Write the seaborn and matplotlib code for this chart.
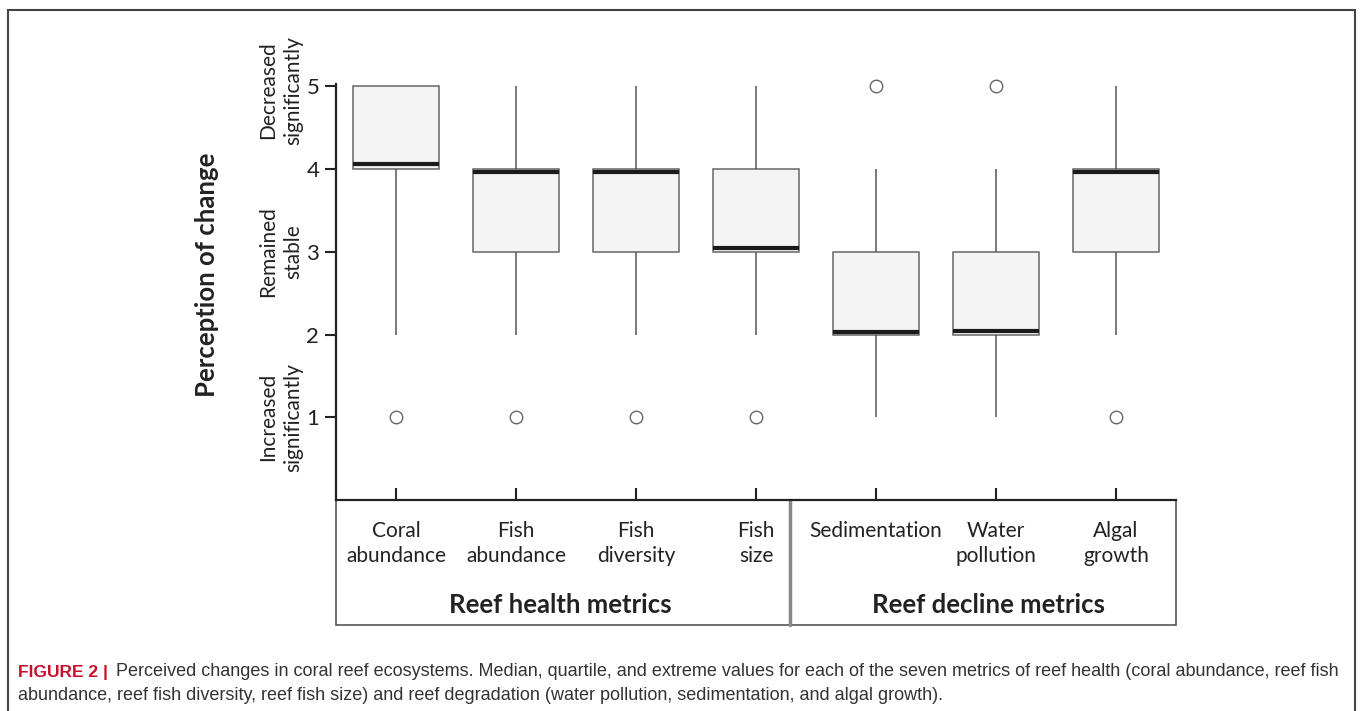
import numpy as np
import pandas as pd
import seaborn as sns
import matplotlib.pyplot as plt
from matplotlib.patches import Rectangle
from matplotlib.lines import Line2D
from matplotlib.transforms import blended_transform_factory

# 指标（类别）
metrics = ["Coral\nabundance", "Fish\nabundance", "Fish\ndiversity", "Fish\nsize",
           "Sedimentation", "Water\npollution", "Algal\ngrowth"]

# 五数概括：下须、下四分位、中位数、上四分位、上须
whisker_low = [2, 2, 2, 2, 1, 1, 2]
quartile_1 = [4, 3, 3, 3, 2, 2, 3]
median = [4.06, 3.97, 3.97, 3.05, 2.03, 2.04, 3.97]
quartile_3 = [5, 4, 4, 4, 3, 3, 4]
whisker_high = [5, 5, 5, 5, 4, 4, 5]

# 异常值
outlier_metric = ["Coral\nabundance", "Fish\nabundance", "Fish\ndiversity", "Fish\nsize",
                  "Sedimentation", "Water\npollution", "Algal\ngrowth"]
outlier_value = [1, 1, 1, 1, 5, 5, 1]

y_ticks = [1, 2, 3, 4, 5]
y_desc = ["Increased\nsignificantly", "Remained\nstable", "Decreased\nsignificantly"]
y_desc_pos = [1, 3, 4.95]

# 长表数据
rows = []
for i, m in enumerate(metrics):
    for v in (whisker_low[i], quartile_1[i], median[i], quartile_3[i], whisker_high[i]):
        rows.append({"metric": m, "value": v})
df = pd.DataFrame(rows)
df_out = pd.DataFrame({"metric": outlier_metric, "value": outlier_value})

sns.set_theme(style="white")
plt.rcParams["font.family"] = ["Lato", "DejaVu Sans"]

fig = plt.figure(figsize=(13.6, 7.11), dpi=100)
ax = fig.add_axes([336 / 1360, 1 - 500 / 711, 840 / 1360, 416 / 711])

sns.boxplot(data=df, x="metric", y="value", order=metrics, whis=(0, 100), width=0.72,
            color="#f4f4f4", saturation=1, linecolor="#666666", linewidth=1.1,
            showcaps=False, fliersize=0,
            medianprops=dict(color="#1a1a1a", linewidth=3),
            whiskerprops=dict(color="#555555", linewidth=1.1), ax=ax)

sns.stripplot(data=df_out, x="metric", y="value", order=metrics, jitter=False,
              color="white", edgecolor="#666666", linewidth=1, size=9, ax=ax,
              clip_on=False, zorder=5)

ax.set_xlim(-0.5, 6.5)
ax.set_ylim(0, 5.03)
ax.set_yticks(y_ticks)
ax.set_xlabel("")
ax.set_ylabel("")

sns.despine(ax=ax)
for s in ("left", "bottom"):
    ax.spines[s].set_linewidth(1.6)
    ax.spines[s].set_color("#222222")

ax.tick_params(axis="y", direction="out", length=8, width=1.5, pad=4,
               labelsize=16, colors="#222222", left=True)
ax.tick_params(axis="x", direction="in", length=9, width=1.5, pad=15,
               labelsize=15, colors="#222222", bottom=True)
for lab in ax.get_xticklabels():
    lab.set_linespacing(1.3)

# y轴说明文字
trans = blended_transform_factory(fig.transFigure, ax.transData)
for txt, pos in zip(y_desc, y_desc_pos):
    ax.text(281 / 1360, pos, txt, rotation=90, ha="center", va="center",
            transform=trans, fontsize=15, linespacing=1.3, color="#222222")

fig.text(207 / 1360, 1 - 275 / 711, "Perception of change", rotation=90,
         ha="center", va="center", fontsize=18.5, fontweight="bold", color="#222222")

# 下方分组框
h = -125 / 416
ax.add_patch(Rectangle((0, h), 1, -h, transform=ax.transAxes, fill=False,
                       edgecolor="#555555", linewidth=1.2, clip_on=False))
div = (790 - 336) / 840
ax.add_line(Line2D([div, div], [h, 0], transform=ax.transAxes, color="#888888",
                   linewidth=2.5, clip_on=False))
ax.text((560 - 336) / 840, -105 / 416, "Reef health metrics", transform=ax.transAxes,
        ha="center", va="center", fontsize=18.5, fontweight="bold", color="#222222")
ax.text((988 - 336) / 840, -105 / 416, "Reef decline metrics", transform=ax.transAxes,
        ha="center", va="center", fontsize=18.5, fontweight="bold", color="#222222")

# 外框
fig.add_artist(Rectangle((8 / 1360, -0.02), 1347 / 1360, 1 - 10 / 711 + 0.02,
                         transform=fig.transFigure, fill=False,
                         edgecolor="#444444", linewidth=1.5))

# 图注
cap_font = ["Liberation Sans", "DejaVu Sans"]
fig.text(18 / 1360, 1 - 672 / 711, "FIGURE 2 |", family=cap_font, fontsize=12.5,
         fontweight="bold", color="#c8102e", va="center")
fig.text(116 / 1360, 1 - 672 / 711,
         "Perceived changes in coral reef ecosystems. Median, quartile, and extreme values "
         "for each of the seven metrics of reef health (coral abundance, reef fish",
         family=cap_font, fontsize=13, color="#333333", va="center")
fig.text(18 / 1360, 1 - 695 / 711,
         "abundance, reef fish diversity, reef fish size) and reef degradation "
         "(water pollution, sedimentation, and algal growth).",
         family=cap_font, fontsize=13, color="#333333", va="center")

fig.savefig("out.png", dpi=100)
